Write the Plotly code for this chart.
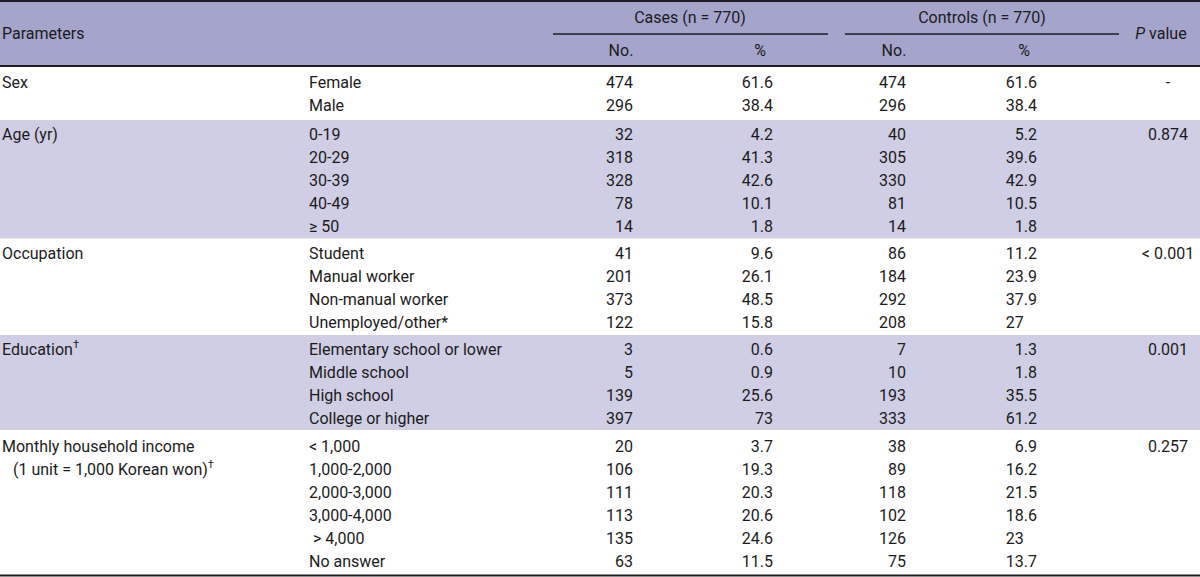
import plotly.graph_objects as go

# ---------------- data ----------------
groups = ["Sex", "Age (yr)", "Occupation", "Education<sup>†</sup>",
          "Monthly household income"]
group_note = ["", "", "", "", "(1 unit = 1,000 Korean won)<sup>†</sup>"]
p_values = ["-", "0.874", "< 0.001", "0.001", "0.257"]

sex_levels = ["Female", "Male"]
sex_cases_no = [474, 296]
sex_cases_pct = [61.6, 38.4]
sex_ctrl_no = [474, 296]
sex_ctrl_pct = [61.6, 38.4]

age_levels = ["0-19", "20-29", "30-39", "40-49", "≥ 50"]
age_cases_no = [32, 318, 328, 78, 14]
age_cases_pct = [4.2, 41.3, 42.6, 10.1, 1.8]
age_ctrl_no = [40, 305, 330, 81, 14]
age_ctrl_pct = [5.2, 39.6, 42.9, 10.5, 1.8]

occ_levels = ["Student", "Manual worker", "Non-manual worker", "Unemployed/other*"]
occ_cases_no = [41, 201, 373, 122]
occ_cases_pct = [9.6, 26.1, 48.5, 15.8]
occ_ctrl_no = [86, 184, 292, 208]
occ_ctrl_pct = [11.2, 23.9, 37.9, 27]

edu_levels = ["Elementary school or lower", "Middle school", "High school", "College or higher"]
edu_cases_no = [3, 5, 139, 397]
edu_cases_pct = [0.6, 0.9, 25.6, 73]
edu_ctrl_no = [7, 10, 193, 333]
edu_ctrl_pct = [1.3, 1.8, 35.5, 61.2]

inc_levels = ["< 1,000", "1,000-2,000", "2,000-3,000", "3,000-4,000", " > 4,000", "No answer"]
inc_cases_no = [20, 106, 111, 113, 135, 63]
inc_cases_pct = [3.7, 19.3, 20.3, 20.6, 24.6, 11.5]
inc_ctrl_no = [38, 89, 118, 102, 126, 75]
inc_ctrl_pct = [6.9, 16.2, 21.5, 18.6, 23, 13.7]

header_cases = "Cases (n = 770)"
header_ctrl = "Controls (n = 770)"
header_params = "Parameters"
header_p = "<i>P</i> value"
sub_headers = ["No.", "%", "No.", "%"]

# ---------------- layout constants ----------------
W, H = 1200, 577
FONT = "Roboto, Liberation Sans, Arial, sans-serif"
FS = 16
TXT = "#1b1b1b"
HEAD_BG = "#a5a4cb"
BAND_BG = "#cfcee5"
LINE = "#1e1e1e"

group_tops = [66, 120, 238.5, 335, 430, 575]
shaded = [False, True, False, True, False]
PITCH = 23
Y_NUDGE = 2.5

blocks = [
    (sex_levels, sex_cases_no, sex_cases_pct, sex_ctrl_no, sex_ctrl_pct),
    (age_levels, age_cases_no, age_cases_pct, age_ctrl_no, age_ctrl_pct),
    (occ_levels, occ_cases_no, occ_cases_pct, occ_ctrl_no, occ_ctrl_pct),
    (edu_levels, edu_cases_no, edu_cases_pct, edu_ctrl_no, edu_ctrl_pct),
    (inc_levels, inc_cases_no, inc_cases_pct, inc_ctrl_no, inc_ctrl_pct),
]

X_PARAM = 2
X_PARAM_INDENT = 13
X_LEVEL = 309
X_CASES_NO = 633
X_CASES_PCT = 773
X_CTRL_NO = 906
X_CTRL_PCT = 1037
X_P = 1168


def fmt(v):
    return f"{v:g}"


def fmt_ctrl_pct(v):
    s = f"{v:g}"
    # reference aligns integer values with decimal values' left edge
    if "." not in s:
        s = s + "\u2008\u2007"
    return s


shapes = []
shapes.append(dict(type="rect", xref="x", yref="y", x0=0, x1=W, y0=0, y1=66,
                   fillcolor=HEAD_BG, line=dict(width=0), layer="below"))
for gi, sh in enumerate(shaded):
    if sh:
        shapes.append(dict(type="rect", xref="x", yref="y", x0=0, x1=W,
                           y0=group_tops[gi], y1=group_tops[gi + 1],
                           fillcolor=BAND_BG, line=dict(width=0), layer="below"))
shapes.append(dict(type="line", xref="x", yref="y", x0=0, x1=W, y0=1, y1=1,
                   line=dict(color=LINE, width=2)))
shapes.append(dict(type="line", xref="x", yref="y", x0=0, x1=W, y0=66, y1=66,
                   line=dict(color=LINE, width=2)))
shapes.append(dict(type="line", xref="x", yref="y", x0=553, x1=828, y0=34, y1=34,
                   line=dict(color=LINE, width=1.5)))
shapes.append(dict(type="line", xref="x", yref="y", x0=845, x1=1119, y0=34, y1=34,
                   line=dict(color=LINE, width=1.5)))
shapes.append(dict(type="line", xref="x", yref="y", x0=0, x1=W, y0=575.5, y1=575.5,
                   line=dict(color=LINE, width=2)))

left_x, left_y, left_t = [], [], []
r_x, r_y, r_t = [], [], []
c_x, c_y, c_t = [], [], []

for gi, (levels, cn, cp, tn, tp) in enumerate(blocks):
    top, bot = group_tops[gi], group_tops[gi + 1]
    n = len(levels)
    y0 = top + (bot - top - n * PITCH) / 2 + PITCH / 2 + Y_NUDGE
    ys = [y0 + PITCH * i for i in range(n)]
    left_x.append(X_PARAM); left_y.append(ys[0]); left_t.append(groups[gi])
    if group_note[gi]:
        left_x.append(X_PARAM_INDENT); left_y.append(ys[1]); left_t.append(group_note[gi])
    for i in range(n):
        lv = levels[i]
        if lv.startswith(" "):
            lv = "\u00a0" + lv[1:]
        left_x.append(X_LEVEL); left_y.append(ys[i]); left_t.append(lv)
        r_x += [X_CASES_NO, X_CASES_PCT, X_CTRL_NO, X_CTRL_PCT]
        r_y += [ys[i]] * 4
        r_t += [fmt(cn[i]), fmt(cp[i]), fmt(tn[i]), fmt_ctrl_pct(tp[i])]
    c_x.append(X_P); c_y.append(ys[0]); c_t.append(p_values[gi])

left_x.append(X_PARAM); left_y.append(34.5); left_t.append(header_params)
c_x += [690, 982, 1161]; c_y += [18.5, 18.5, 34.5]; c_t += [header_cases, header_ctrl, header_p]
c_x += [621, 760, 894, 1024]; c_y += [52] * 4; c_t += sub_headers

font = dict(family=FONT, size=FS, color=TXT)
fig = go.Figure()
fig.add_trace(go.Scatter(x=left_x, y=left_y, text=left_t, mode="text",
                         textposition="middle right", textfont=font,
                         hoverinfo="skip", showlegend=False))
fig.add_trace(go.Scatter(x=r_x, y=r_y, text=r_t, mode="text",
                         textposition="middle left", textfont=font,
                         hoverinfo="skip", showlegend=False))
fig.add_trace(go.Scatter(x=c_x, y=c_y, text=c_t, mode="text",
                         textposition="middle center", textfont=font,
                         hoverinfo="skip", showlegend=False))

fig.update_layout(
    width=W, height=H,
    margin=dict(l=0, r=0, t=0, b=0),
    paper_bgcolor="white", plot_bgcolor="white",
    shapes=shapes,
    xaxis=dict(range=[0, W], visible=False, fixedrange=True),
    yaxis=dict(range=[H, 0], visible=False, fixedrange=True),
)

fig.write_html("out.html", config={"displayModeBar": False},
               post_script="document.body.style.margin='0';document.body.style.overflow='hidden';")
